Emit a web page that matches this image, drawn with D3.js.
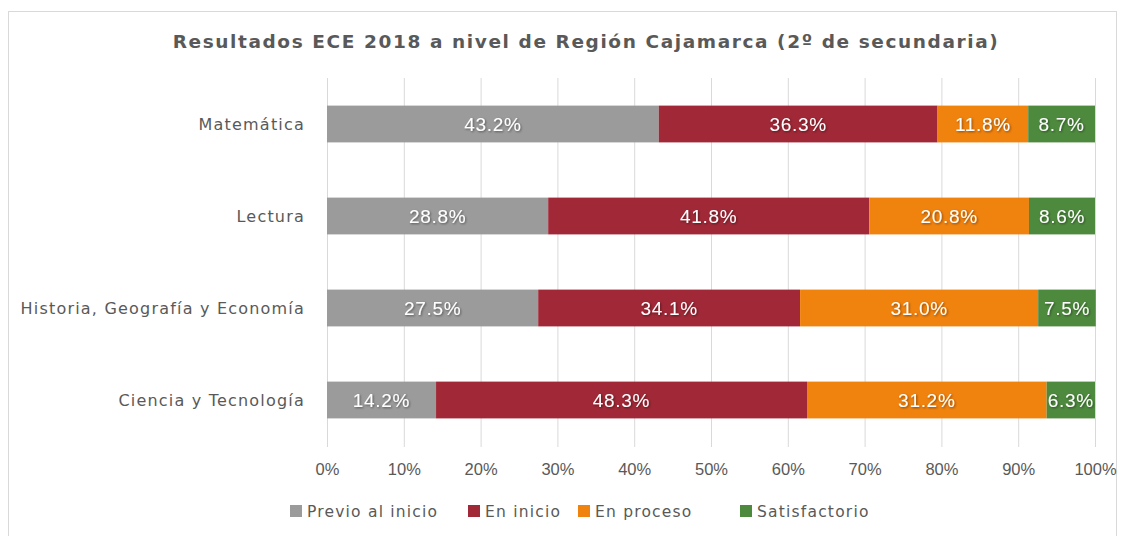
<!DOCTYPE html>
<html>
<head>
<meta charset="utf-8">
<style>
  body { margin: 0; background: #fff; }
  .axis .domain { display: none; }
  .axis line { stroke: #d9d9d9; }
</style>
</head>
<body>
<svg width="1125" height="536"></svg>
<script src="https://d3js.org/d3.v7.min.js"></script>
<script>
// datos
var categorias = ["Matemática", "Lectura", "Historia, Geografía y Economía", "Ciencia y Tecnología"];
var niveles = ["Previo al inicio", "En inicio", "En proceso", "Satisfactorio"];
var previo = [43.2, 28.8, 27.5, 14.2];
var enInicio = [36.3, 41.8, 34.1, 48.3];
var enProceso = [11.8, 20.8, 31.0, 31.2];
var satisfactorio = [8.7, 8.6, 7.5, 6.3];
var ticks = [0, 10, 20, 30, 40, 50, 60, 70, 80, 90, 100];
var colores = ["#9b9b9b", "#a02837", "#f0820e", "#4e8a3e"];

var rows = categorias.map(function(c, i) {
  var r = { cat: c };
  r[niveles[0]] = previo[i];
  r[niveles[1]] = enInicio[i];
  r[niveles[2]] = enProceso[i];
  r[niveles[3]] = satisfactorio[i];
  return r;
});

var svg = d3.select("svg");

// marco
svg.append("rect")
    .attr("x", 8.5).attr("y", 11.5)
    .attr("width", 1108).attr("height", 540)
    .attr("fill", "none").attr("stroke", "#d9d9d9");

svg.append("text")
    .attr("x", 586).attr("y", 48)
    .attr("text-anchor", "middle")
    .attr("font-family", "DejaVu Sans")
    .attr("font-weight", "bold")
    .attr("font-size", 18.5)
    .attr("letter-spacing", 1.6)
    .attr("fill", "#595959")
    .text("Resultados ECE 2018 a nivel de Región Cajamarca (2º de secundaria)");

var x = d3.scaleLinear().domain([0, 100]).range([327, 1095]);
var y = d3.scaleBand().domain(categorias).range([78, 446]).paddingInner(0.6).paddingOuter(0.3);

svg.append("g")
    .attr("class", "axis")
    .attr("transform", "translate(0,78)")
    .call(d3.axisBottom(x).tickValues(ticks).tickSize(369).tickFormat(function(d) { return d + "%"; }))
    .call(function(g) {
      g.selectAll("text")
          .attr("dy", 0)
          .attr("y", 397)
          .attr("fill", "#595959")
          .attr("font-size", 16.5)
          .attr("font-family", "Liberation Sans, Arial");
    });

var stack = d3.stack().keys(niveles)(rows);

var shadow = svg.append("defs").append("filter").attr("id", "sh")
    .attr("x", "-20%").attr("y", "-50%").attr("width", "140%").attr("height", "200%");
shadow.append("feDropShadow").attr("dx", 1).attr("dy", 1).attr("stdDeviation", 1.2)
    .attr("flood-color", "#000").attr("flood-opacity", 0.45);

var series = svg.append("g").selectAll("g")
    .data(stack).enter().append("g")
    .attr("fill", function(d, i) { return colores[i]; });

series.selectAll("rect")
    .data(function(d) { return d; })
    .enter().append("rect")
    .attr("x", function(d) { return x(d[0]); })
    .attr("y", function(d) { return y(d.data.cat); })
    .attr("width", function(d) { return x(d[1]) - x(d[0]); })
    .attr("height", y.bandwidth());

series.selectAll("text")
    .data(function(d) { return d; })
    .enter().append("text")
    .attr("x", function(d) { return (x(d[0]) + x(d[1])) / 2; })
    .attr("y", function(d) { return y(d.data.cat) + y.bandwidth() / 2; })
    .attr("dy", "0.36em")
    .attr("text-anchor", "middle")
    .attr("fill", "#fff")
    .attr("font-family", "Liberation Sans, Arial")
    .attr("font-size", 19)
    .attr("letter-spacing", 0.7)
    .attr("filter", "url(#sh)")
    .text(function(d) { return (d[1] - d[0]).toFixed(1) + "%"; });

svg.append("g").selectAll("text")
    .data(categorias).enter().append("text")
    .attr("x", 305)
    .attr("y", function(d) { return y(d) + y.bandwidth() / 2; })
    .attr("dy", "0.35em")
    .attr("text-anchor", "end")
    .attr("font-family", "DejaVu Sans")
    .attr("font-size", 16)
    .attr("letter-spacing", 1.2)
    .attr("fill", "#595959")
    .text(function(d) { return d; });

// leyenda
var legX = [290, 468, 578, 740];
var legend = svg.append("g").selectAll("g")
    .data(niveles).enter().append("g")
    .attr("transform", function(d, i) { return "translate(" + legX[i] + ",505)"; });
legend.append("rect")
    .attr("width", 12).attr("height", 12)
    .attr("fill", function(d, i) { return colores[i]; });
legend.append("text")
    .attr("x", 17).attr("y", 6).attr("dy", "0.36em")
    .attr("font-family", "DejaVu Sans")
    .attr("font-size", 15.5)
    .attr("letter-spacing", 1.2)
    .attr("fill", "#595959")
    .text(function(d) { return d; });
</script>
</body>
</html>
